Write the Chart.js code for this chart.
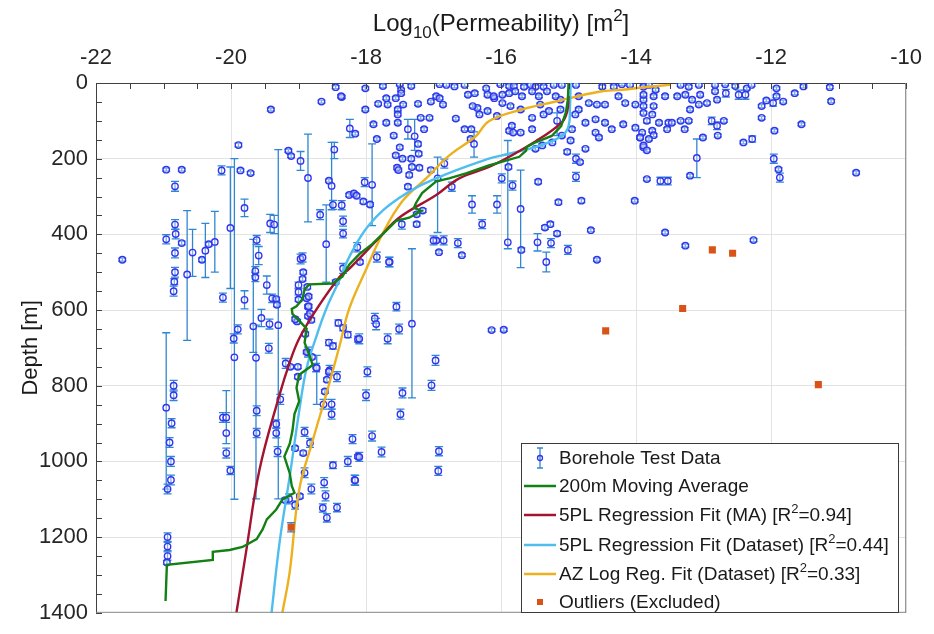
<!DOCTYPE html>
<html>
<head>
<meta charset="utf-8">
<script src="https://cdn.jsdelivr.net/npm/chart.js@4.4.1/dist/chart.umd.min.js"></script>
<style>
html,body{margin:0;padding:0;background:#fff;overflow:hidden;}
#wrap{width:934px;height:634px;}
</style>
</head>
<body>
<div id="wrap"><canvas id="c" width="934" height="634"></canvas></div>
<script>
// ---------- DATA ----------
const xTicks = [-22, -20, -18, -16, -14, -12, -10];
const yTicks = [0, 200, 400, 600, 800, 1000, 1200, 1400];

const titleParts = ["Log", "10", "(Permeability) [m", "2", "]"];
const yTitle = "Depth [m]";
const legendLabels = ["Borehole Test Data", "200m Moving Average", "5PL Regression Fit (MA) [R", "5PL Regression Fit (Dataset) [R", "AZ Log Reg. Fit (Dataset) [R", "Outliers (Excluded)"];
const legendR2 = [null, null, "=0.94]", "=0.44]", "=0.33]", null];

// [log10 k, depth, halfError] or [log10 k, depth, intervalTop, intervalBottom]
const boreholeTests = [
[-18.45,11,4],[-18.36,37,4],[-18.66,49,4],[-19.41,70,4],[-18.24,120,96,144],[-18.16,134,4],[-19.89,164,5],[-19.15,179,4],[-19.11,193,4],[-18.97,206,181,231],[-18.86,251,135,367],[-18.47,176,157,200],[-18.55,258,4],[-18.51,272,157,335],[-18.49,322,12],[-18.36,323,12],[-18.34,365,13],[-18.34,398,11],[-18.25,296,4],[-18.18,292,4],[-18.14,298,4],
[-20.96,229,4],[-20.73,229,4],[-20.83,273,13],[-20.83,374,13],[-20.82,399,13],[-20.96,413,12],[-20.73,423,5],[-20.83,449,13],[-20.83,500,13],[-20.84,525,8],[-20.85,550,13],[-21.61,467,4],[-20.65,506,337,680],[-20.57,448,387,511],[-20.43,467,5],[-20.38,443,371,514],[-20.33,426,5],[-20.24,420,339,500],[-20.14,231,12],[-20.12,567,12],[-20.01,383,222,543],[-19.86,231,4],[-19.95,725,200,1100],[-19.80,330,23],[-19.71,238,4],[-19.80,573,24],[-19.96,675,12],[-19.90,651,12],[-19.62,415,12],[-19.59,456,24],[-19.64,497,12],[-19.64,513,12],[-19.67,643,413,712],[-19.55,621,23],[-19.47,534,24],[-19.42,371,24],[-19.36,374,24],[-19.39,569,11],[-19.33,571,5],[-19.32,586,5],[-19.30,640,176,1099],[-19.43,637,13],[-19.44,701,13],
[-18.97,465,13],[-18.93,500,5],[-18.94,518,5],[-19.00,534,8],[-19.00,552,8],[-18.87,539,5],[-18.88,569,5],[-18.86,591,5],[-18.86,616,5],[-19.02,630,5],[-18.59,426,322,526],[-18.68,348,13],[-18.45,526,5],[-18.41,634,8],[-18.34,647,8],[-18.27,665,8],[-18.55,686,8],[-18.12,677,8],[-18.49,695,8],
[-19.63,726,640,1099],[-18.94,461,12],[-19.00,572,5],[-18.85,564,5],[-18.85,590,5],[-18.83,609,5],[-18.81,626,5],[-18.90,663,5],[-19.05,624,5],[-18.10,676,13],[-18.86,711,13],[-18.74,752,11],[-18.54,759,13],[-18.43,776,13],[-17.98,763,13],[-18.34,490,13],[-18.13,434,12],[-18.09,473,5],[-17.84,460,13],[-17.65,473,13],[-17.47,373,13],[-17.55,591,11],[-17.87,622,13],[-17.68,676,13],[-17.51,650,13],[-17.32,636,438,832],[-16.96,416,5],[-16.97,733,13],[-17.03,799,13],[-18.04,313,5],[-17.94,321,5],[-17.25,347,5],[-17.16,337,5],[-17.25,373,5],
[-20.96,858,660,1073],[-20.85,800,14],[-20.85,825,14],[-20.88,899,12],[-20.91,950,13],[-20.89,1000,13],[-20.89,1049,13],[-20.94,1073,13],[-20.94,1200,11],[-20.94,1225,11],[-20.94,1250,11],[-20.95,1267,5],[-20.12,884,13],[-20.07,884,13],[-20.07,925,813,953],[-20.07,978,13],[-20.01,1024,11],[-19.62,866,13],[-19.62,925,12],[-19.33,901,11],[-19.33,925,13],[-19.31,974,13],[-19.27,836,13],[-19.19,741,13],[-19.12,750,5],[-19.01,750,5],[-19.01,776,5],[-18.88,711,5],[-18.80,724,5],[-18.73,753,720,849],[-19.05,965,5],[-18.93,978,5],[-18.91,922,12],[-18.83,951,12],[-18.91,1030,13],[-18.81,1073,13],[-19.14,1099,13],[-19.05,1115,11],[-18.98,1092,5],[-18.62,1056,13],[-18.60,1091,13],[-18.64,1123,11],[-18.58,1149,11],[-18.43,1122,11],[-18.20,941,12],[-18.27,1000,13],[-18.17,1049,13],[-18.12,987,5],[-18.55,763,5],[-18.58,784,5],[-18.61,815,5],[-18.63,849,13],[-18.51,849,13],[-18.51,875,13],[-18.49,1010,9],[-19.20,1102,5],
[-18.00,825,14],[-17.46,819,13],[-17.49,875,13],[-17.91,933,13],[-17.77,975,13],[-18.10,988,12],[-18.16,1050,13],[-16.92,973,12],[-16.93,1025,12],
[-18.01,14,4],[-18.01,70,4],[-17.89,109,4],[-17.84,148,4],[-17.68,57,4],[-17.56,40,4],[-17.70,105,4],[-17.53,70,4],[-17.53,105,4],[-17.50,170,4],[-17.56,191,4],[-17.46,200,4],[-17.54,224,5],[-17.52,230,5],[-17.38,122,96,148],[-17.33,200,5],[-17.32,222,5],[-17.21,224,5],[-17.22,187,5],[-17.36,243,5],[-17.28,141,96,178],[-17.19,92,4],[-17.14,122,4],[-17.06,92,4],[-17.04,230,5],[-16.84,213,12],[-16.94,252,196,395],[-16.73,274,12],[-16.45,148,4],[-16.40,161,129,196],[-16.43,321,23],[-16.06,321,23],[-16.28,373,12],[-17.00,416,12],[-16.85,416,12],[-16.92,447,4],[-16.64,423,12],[-16.58,455,4],[-17.66,473,12],[-17.91,269,161,377],[-18.02,262,12],
[-15.90,421,152,438],[-15.88,126,4],[-15.82,131,4],[-15.89,222,5],[-15.99,252,12],[-15.83,271,12],[-15.71,333,230,488],[-15.70,441,5],[-15.46,421,23],[-15.33,473,26],[-15.35,382,5],[-15.27,373,5],[-15.26,423,12],[-15.17,398,5],[-15.01,441,12],[-15.15,315,5],[-15.45,261,5],[-14.81,311,5],[-14.89,248,12],[-14.89,200,12],[-15.02,182,5],[-14.67,389,4],[-14.58,467,4],[-14.02,311,4],[-15.96,652,4],[-16.14,653,4],[-17.85,637,15],
[-18.37,35,4],[-17.82,55,4],[-17.70,40,4],[-17.75,8,4],[-17.50,3,4],[-17.48,18,4],[-17.48,27,4],[-17.45,57,4],[-17.53,83,4],[-17.23,55,4],[-17.33,8,4],[-17.04,49,4],[-16.96,35,4],[-16.91,40,4],[-16.86,57,4],[-16.81,5,4],[-16.91,3,4],[-16.69,9,4],[-16.67,94,4],[-16.54,5,4],[-16.49,31,4],[-16.39,27,4],[-16.35,66,4],[-16.22,14,4],[-16.20,31,4],[-16.10,40,4],[-16.32,83,4],[-16.42,61,4],[-16.44,122,4],[-16.20,74,4],[-16.54,122,4],[-17.59,139,4],[-17.38,274,5],[-17.23,161,5],
[-16.01,3,4],[-15.88,8,4],[-15.81,8,4],[-15.66,10,4],[-15.56,5,4],[-15.49,10,4],[-15.37,10,4],[-15.22,5,4],[-15.10,5,4],[-14.89,5,4],[-14.50,10,4],[-14.33,10,4],[-14.21,3,4],[-14.09,5,4],[-13.89,10,4],[-16.11,35,4],[-15.98,31,4],[-15.88,27,4],[-15.79,22,4],[-15.69,35,4],[-15.54,22,4],[-15.44,35,4],[-15.32,22,4],[-15.19,35,4],[-15.12,44,4],[-14.85,35,4],[-14.70,53,4],[-14.58,57,4],[-14.46,57,4],[-14.26,35,4],[-14.16,53,4],[-14.01,57,4],[-13.89,44,4],[-15.98,53,4],[-15.86,61,4],[-15.71,70,4],[-15.42,57,4],[-15.29,74,4],[-15.12,70,4],[-14.85,70,4],[-16.06,87,4],[-15.84,113,4],[-15.71,131,4],[-15.54,92,4],[-15.54,122,4],[-15.37,83,4],[-15.17,100,79,139],[-15.10,139,4],[-14.95,122,4],[-14.90,83,4],[-14.75,105,4],[-14.60,96,4],[-14.46,105,4],[-14.36,122,4],[-14.19,109,4],[-14.01,118,4],[-13.94,144,4],[-13.89,170,4],[-14.60,131,4],[-14.55,144,4],[-14.97,152,4],[-15.24,157,4],[-15.49,174,4],[-15.39,165,4],[-14.75,174,4],[-14.83,209,4],
[-13.81,5,4],[-13.71,18,4],[-13.89,31,4],[-13.74,35,4],[-13.57,35,4],[-13.39,35,4],[-13.27,31,4],[-13.17,44,4],[-13.05,31,4],[-13.34,5,4],[-13.22,10,4],[-13.07,5,4],[-12.83,5,4],[-12.68,3,4],[-12.53,8,4],[-12.36,14,4],[-12.29,5,4],[-12.83,22,4],[-12.67,27,10],[-12.48,31,12],[-12.38,31,12],[-12.80,44,4],[-13.89,61,4],[-13.74,61,4],[-13.89,79,4],[-13.76,83,4],[-13.84,100,5],[-13.66,105,4],[-13.52,105,4],[-13.47,105,4],[-13.34,100,4],[-13.22,100,4],[-13.20,70,4],[-13.07,57,4],[-12.95,53,4],[-12.88,100,10],[-12.80,113,10],[-12.70,100,4],[-13.54,122,4],[-13.28,122,4],[-13.91,131,4],[-13.76,126,4],[-13.74,138,4],[-13.94,144,4],[-13.81,148,4],[-13.89,165,4],[-13.84,178,4],[-13.01,144,4],[-12.79,139,4],[-12.41,157,4],[-12.28,148,8],[-12.14,61,4],[-12.07,46,4],[-11.97,53,8],[-12.14,92,4],[-11.95,126,4],[-11.92,14,4],[-11.92,35,4],[-11.82,49,4],[-11.65,27,4],[-13.10,198,148,250],[-13.20,245,4],[-13.64,259,10],[-13.53,259,10],[-13.84,254,4],[-11.96,200,12],[-11.89,228,4],[-11.87,250,12],[-13.57,395,4],[-13.27,430,4],[-12.26,415,4],[-11.55,109,4],[-11.52,9,4],[-11.13,11,4],[-11.11,48,4],[-10.74,237,4]
];

// [log10 k, depth, halfError]
const outliers = [[-12.87,441,0],[-12.57,450,0],[-13.31,596,0],[-14.45,655,0],[-11.30,797,0],[-19.11,1174,12]];

// [log10 k, depth]
const movingAverage = [
[-15.00,0],[-15.01,44],[-15.04,78],[-15.11,114],[-15.25,140],[-15.48,156],[-15.62,169],[-15.63,179],[-15.73,195],[-15.93,205],[-16.18,218],[-16.52,239],[-16.77,252],[-16.96,260],[-17.17,291],[-17.26,317],[-17.29,330],[-17.18,338],[-17.36,356],[-17.55,364],[-17.70,390],[-17.91,426],[-18.10,452],[-18.25,480],[-18.35,512],[-18.50,530],[-18.84,532],[-18.91,545],[-18.94,571],[-19.03,590],[-19.10,597],[-19.09,610],[-18.96,634],[-18.88,649],[-18.91,686],[-18.84,719],[-18.79,745],[-18.99,771],[-19.03,805],[-18.99,841],[-19.06,875],[-19.09,919],[-19.13,953],[-19.21,987],[-19.13,1031],[-19.10,1065],[-19.06,1083],[-19.24,1101],[-19.33,1127],[-19.47,1153],[-19.53,1179],[-19.62,1205],[-19.83,1226],[-20.02,1234],[-20.27,1239],[-20.27,1260],[-20.95,1273],[-20.97,1369]
];
const fit5plMA = [
[-15.00,35],[-15.02,75],[-15.10,104],[-15.48,153],[-16.13,218],[-16.62,252],[-16.96,296],[-17.51,356],[-17.80,408],[-18.25,491],[-18.39,512],[-18.73,597],[-18.99,675],[-19.13,738],[-19.28,823],[-19.58,1023],[-19.77,1231],[-19.92,1400]
];
const fit5plDataset = [
[-14.97,0],[-14.98,70],[-15.00,114],[-15.10,140],[-15.44,166],[-15.88,187],[-16.18,200],[-16.96,252],[-17.51,304],[-17.95,374],[-18.25,460],[-18.39,519],[-18.59,597],[-18.73,667],[-18.88,753],[-18.99,867],[-19.13,1039],[-19.28,1213],[-19.40,1400]
];
const azLogFit = [
[-13.49,5],[-13.81,10],[-14.21,18],[-14.55,23],[-15.19,49],[-15.69,70],[-16.18,101],[-16.37,140],[-16.77,192],[-17.11,252],[-17.46,312],[-17.76,400],[-18.00,493],[-18.25,597],[-18.39,693],[-18.59,823],[-18.79,945],[-18.99,1075],[-19.13,1291],[-19.24,1400]
];

// ---------- STYLE ----------
const FONT = "'Liberation Sans', Arial, Helvetica, sans-serif";
const C_MARK = '#3434f0', C_BAR = '#2f86d2', C_GREEN = '#138013', C_RED = '#a2142f', C_CYAN = '#4dbeee', C_ORANGE = '#edb120', C_OUT = '#d95319';

const pts = a => a.map(r => ({x: r[0], y: r[1]}));

const errorBars = {
  id: 'errorBars',
  beforeDatasetDraw(chart, args) {
    const ds = chart.data.datasets[args.index];
    if (!ds.errRows) return;
    const ctx = chart.ctx, xs = chart.scales.x, ys = chart.scales.y, ca = chart.chartArea;
    ctx.save();
    ctx.beginPath(); ctx.rect(ca.left, ca.top, ca.right - ca.left, ca.bottom - ca.top); ctx.clip();
    ctx.strokeStyle = C_BAR; ctx.lineWidth = 1.3;
    ds.errRows.forEach(r => {
      let top, bot;
      if (r.length === 4) { top = r[2]; bot = r[3]; } else { top = r[1] - r[2]; bot = r[1] + r[2]; }
      if (bot - top <= 0) return;
      const px = xs.getPixelForValue(r[0]);
      const y1 = ys.getPixelForValue(top), y2 = ys.getPixelForValue(bot);
      ctx.beginPath();
      ctx.moveTo(px, y1); ctx.lineTo(px, y2);
      ctx.moveTo(px - 4, y1); ctx.lineTo(px + 4, y1);
      ctx.moveTo(px - 4, y2); ctx.lineTo(px + 4, y2);
      ctx.stroke();
    });
    ctx.restore();
  }
};

const decorations = {
  id: 'decorations',
  afterDraw(chart) {
    const ctx = chart.ctx, ca = chart.chartArea, xs = chart.scales.x, ys = chart.scales.y;
    ctx.save();
    // right & bottom box lines
    ctx.strokeStyle = '#8a8a8a'; ctx.lineWidth = 1;
    ctx.beginPath();
    ctx.moveTo(ca.right - 0.5, ca.top); ctx.lineTo(ca.right - 0.5, ca.bottom);
    ctx.moveTo(ca.left, ca.bottom - 0.5); ctx.lineTo(ca.right, ca.bottom - 0.5);
    ctx.stroke();
    // minor ticks
    ctx.strokeStyle = '#404040'; ctx.lineWidth = 1;
    ctx.beginPath();
    for (let v = xTicks[0]; v <= xTicks[xTicks.length - 1] + 1e-9; v += 0.5) {
      const px = Math.round(xs.getPixelForValue(v)) + 0.5;
      ctx.moveTo(px, ca.top); ctx.lineTo(px, ca.top + 6);
    }
    for (let v = yTicks[0]; v <= yTicks[yTicks.length - 1]; v += 50) {
      const py = Math.round(ys.getPixelForValue(v)) + 0.5;
      ctx.moveTo(ca.left, py); ctx.lineTo(ca.left + 6, py);
    }
    ctx.stroke();

    // title with sub/superscripts
    ctx.fillStyle = '#1a1a1a';
    ctx.textBaseline = 'alphabetic'; ctx.textAlign = 'left';
    const big = '24px ' + FONT, small = '17px ' + FONT;
    const segs = [[titleParts[0], big, 0], [titleParts[1], small, 7], [titleParts[2], big, 0], [titleParts[3], small, -10], [titleParts[4], big, 0]];
    let w = 0;
    segs.forEach(s => { ctx.font = s[1]; w += ctx.measureText(s[0]).width; });
    let x = (ca.left + ca.right) / 2 - w / 2;
    const base = 31;
    segs.forEach(s => { ctx.font = s[1]; ctx.fillText(s[0], x, base + s[2]); x += ctx.measureText(s[0]).width; });

    // y title
    ctx.save();
    ctx.translate(31, (ca.top + ca.bottom) / 2);
    ctx.rotate(-Math.PI / 2);
    ctx.font = '22px ' + FONT; ctx.textAlign = 'center'; ctx.textBaseline = 'middle';
    ctx.fillText(yTitle, 0, 0);
    ctx.restore();

    // legend
    const L = 521, T = 443, R = 899, B = 613;
    ctx.fillStyle = '#ffffff'; ctx.fillRect(L, T, R - L, B - T);
    ctx.strokeStyle = '#3a3a3a'; ctx.lineWidth = 1;
    ctx.strokeRect(L + 0.5, T + 0.5, R - L - 1, B - T - 1);
    const rows = [458, 486, 515, 545, 574, 602];
    const colors = [null, C_GREEN, C_RED, C_CYAN, C_ORANGE, null];
    rows.forEach((yy, i) => {
      if (colors[i]) {
        ctx.strokeStyle = colors[i]; ctx.lineWidth = 2.5;
        ctx.beginPath(); ctx.moveTo(524, yy); ctx.lineTo(556, yy); ctx.stroke();
      }
      ctx.fillStyle = '#1a1a1a';
      ctx.font = '19px ' + FONT; ctx.textAlign = 'left'; ctx.textBaseline = 'middle';
      ctx.fillText(legendLabels[i], 559, yy + 1);
      if (legendR2[i]) {
        let xx = 559 + ctx.measureText(legendLabels[i]).width;
        ctx.font = '13px ' + FONT; ctx.fillText('2', xx, yy - 6);
        xx += ctx.measureText('2').width;
        ctx.font = '19px ' + FONT; ctx.fillText(legendR2[i], xx, yy + 1);
      }
    });
    // borehole marker sample
    ctx.strokeStyle = C_BAR; ctx.lineWidth = 1.3;
    ctx.beginPath();
    ctx.moveTo(540, rows[0] - 10); ctx.lineTo(540, rows[0] + 10);
    ctx.moveTo(537, rows[0] - 10); ctx.lineTo(543, rows[0] - 10);
    ctx.moveTo(537, rows[0] + 10); ctx.lineTo(543, rows[0] + 10);
    ctx.stroke();
    ctx.strokeStyle = C_MARK; ctx.beginPath(); ctx.arc(540, rows[0], 2.5, 0, Math.PI * 2); ctx.stroke();
    ctx.fillStyle = C_OUT; ctx.fillRect(537, rows[5] - 3, 6, 6);
    ctx.restore();
  }
};

new Chart(document.getElementById('c'), {
  type: 'scatter',
  data: {
    datasets: [
      { label: legendLabels[5], data: pts(outliers), errRows: outliers, pointStyle: 'rect', pointRadius: 5, backgroundColor: C_OUT, borderColor: C_OUT, borderWidth: 0, order: 0 },
      { label: legendLabels[1], data: pts(movingAverage), showLine: true, pointRadius: 0, borderColor: C_GREEN, borderWidth: 2.4, tension: 0, order: 1 },
      { label: legendLabels[2], data: pts(fit5plMA), showLine: true, pointRadius: 0, borderColor: C_RED, borderWidth: 2.4, tension: 0.4, order: 2 },
      { label: legendLabels[3], data: pts(fit5plDataset), showLine: true, pointRadius: 0, borderColor: C_CYAN, borderWidth: 2.4, tension: 0.4, order: 3 },
      { label: legendLabels[4], data: pts(azLogFit), showLine: true, pointRadius: 0, borderColor: C_ORANGE, borderWidth: 2.4, tension: 0.4, order: 4 },
      { label: legendLabels[0], data: pts(boreholeTests), errRows: boreholeTests, pointStyle: 'circle', pointRadius: 3.2, borderColor: C_MARK, borderWidth: 1.4, backgroundColor: 'rgba(255,255,255,0.35)', order: 5 }
    ]
  },
  options: {
    responsive: false, animation: false, devicePixelRatio: 1,
    layout: { padding: { left: 0, top: 0, right: 26, bottom: 12 } },
    plugins: { legend: { display: false }, tooltip: { enabled: false }, title: { display: false } },
    scales: {
      x: {
        type: 'linear', position: 'top', min: xTicks[0], max: xTicks[xTicks.length - 1],
        afterBuildTicks: s => { s.ticks = xTicks.map(v => ({ value: v })); },
        afterFit: s => { s.height = 83; },
        ticks: { color: '#262626', font: { family: FONT, size: 22 }, padding: 12, maxRotation: 0, callback: v => String(v) },
        grid: { color: '#e3e3e3', lineWidth: 1, drawTicks: false },
        border: { display: true, color: '#404040', width: 1 }
      },
      y: {
        type: 'linear', reverse: true, min: yTicks[0], max: yTicks[yTicks.length - 1],
        afterBuildTicks: s => { s.ticks = yTicks.map(v => ({ value: v })); },
        afterFit: s => { s.width = 96; },
        ticks: { color: '#262626', font: { family: FONT, size: 22 }, padding: 8, callback: v => String(v) },
        grid: { color: '#e3e3e3', lineWidth: 1, drawTicks: false },
        border: { display: true, color: '#404040', width: 1 }
      }
    }
  },
  plugins: [errorBars, decorations]
});
</script>
</body>
</html>
